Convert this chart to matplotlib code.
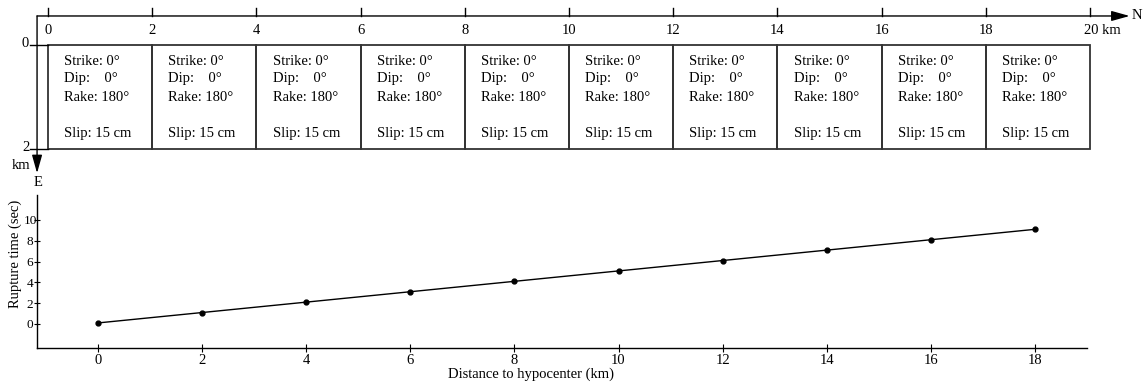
import numpy as np
import matplotlib.pyplot as plt
from matplotlib.patches import Rectangle

plt.rcParams['font.family'] = ['Liberation Serif', 'DejaVu Serif']
plt.rcParams['font.size'] = 10.5

# fault segments (km along strike) and their source parameters
seg_start = [0, 2, 4, 6, 8, 10, 12, 14, 16, 18]
seg_width = 2
seg_depth = 2
strike = [0] * 10
dip = [0] * 10
rake = [180] * 10
slip = [15] * 10

# rupture time of each segment
distance = [0, 2, 4, 6, 8, 10, 12, 14, 16, 18]
rupture_time = [0.1, 1.1, 2.1, 3.1, 4.1, 5.1, 6.1, 7.1, 8.1, 9.1]

W, H = 1146, 384
fig = plt.figure(figsize=(W / 100, H / 100), dpi=100)

# ---- fault plane sketch (map view), km units, 52.1 px per km
kpx = 52.1
x0px, y0px = 48, 45
ax1 = fig.add_axes([0, 0.5, 1, 0.5])
ax1.set_xlim((0 - x0px) / kpx, (W - x0px) / kpx)
ax1.set_ylim((192 - y0px) / kpx, (0 - y0px) / kpx)
ax1.axis('off')

line_kw = dict(color='black', lw=1.0)
arrow_kw = dict(arrowstyle='-|>,head_length=1.0,head_width=0.28',
                mutation_scale=11, color='black', lw=1.0,
                shrinkA=0, shrinkB=0)
top = -0.557
left = -0.21

# north axis with arrow
ax1.annotate('', xy=(20.76, top), xytext=(left, top), arrowprops=arrow_kw)
ax1.text(20.8, top, 'N', ha='left', va='center')
for k in range(0, 21, 2):
    ax1.plot([k, k], [top - 0.16, top], **line_kw)
    if k == 20:
        ax1.text(k - 0.12, -0.27, '20 km', ha='left', va='center')
    else:
        ax1.text(k, -0.27, str(k), ha='center', va='center')

# east (depth) axis with arrow
ax1.annotate('', xy=(left, 2.46), xytext=(left, top), arrowprops=arrow_kw)
for d in [0, 2]:
    ax1.plot([-0.35, 0], [d, d], **line_kw)
    ax1.text(-0.36, d - 0.03, str(d), ha='right', va='center')
ax1.text(-0.52, 2.32, 'km', ha='center', va='center')
ax1.text(-0.19, 2.63, 'E', ha='center', va='center')

# fault segments
for i, xs in enumerate(seg_start):
    ax1.add_patch(Rectangle((xs, 0), seg_width, seg_depth, fill=False,
                            edgecolor='#333333', lw=1.3))
    tx = xs + 0.31
    ax1.text(tx, 0.31, 'Strike: %d°' % strike[i], ha='left', va='center')
    ax1.text(tx, 0.65, 'Dip:    %d°' % dip[i], ha='left', va='center')
    ax1.text(tx, 1.00, 'Rake: %d°' % rake[i], ha='left', va='center')
    ax1.text(tx, 1.69, 'Slip: %d cm' % slip[i], ha='left', va='center')

# ---- rupture time vs distance
ax2 = fig.add_axes([37 / W, 1 - 348 / H, (1087 - 37) / W, (348 - 195) / H])
ax2.plot(distance, rupture_time, color='black', lw=1.0, marker='o',
         markersize=3.5)
ax2.set_xlim(-1.172, 19.0)
ax2.set_ylim(-2.31, 12.4)
ax2.set_xticks(range(0, 19, 2))
ax2.set_yticks(range(0, 11, 2))
ax2.spines['top'].set_visible(False)
ax2.spines['right'].set_visible(False)
ax2.spines['left'].set_linewidth(1.0)
ax2.spines['bottom'].set_linewidth(1.0)
ax2.tick_params(axis='x', direction='inout', length=6, width=0.8, pad=1,
                labelsize=10.5)
ax2.tick_params(axis='y', direction='inout', length=5, width=0.8, pad=2.5,
                labelsize=9.5)
for lab in ax2.get_yticklabels():
    lab.set_horizontalalignment('center')

fig.text(15 / W, 1 - 254 / H, 'Rupture time (sec)', rotation=90,
         ha='center', va='center')
fig.text(531 / W, 1 - 374 / H, 'Distance to hypocenter (km)',
         ha='center', va='center')

fig.savefig('out.png', dpi=100)
